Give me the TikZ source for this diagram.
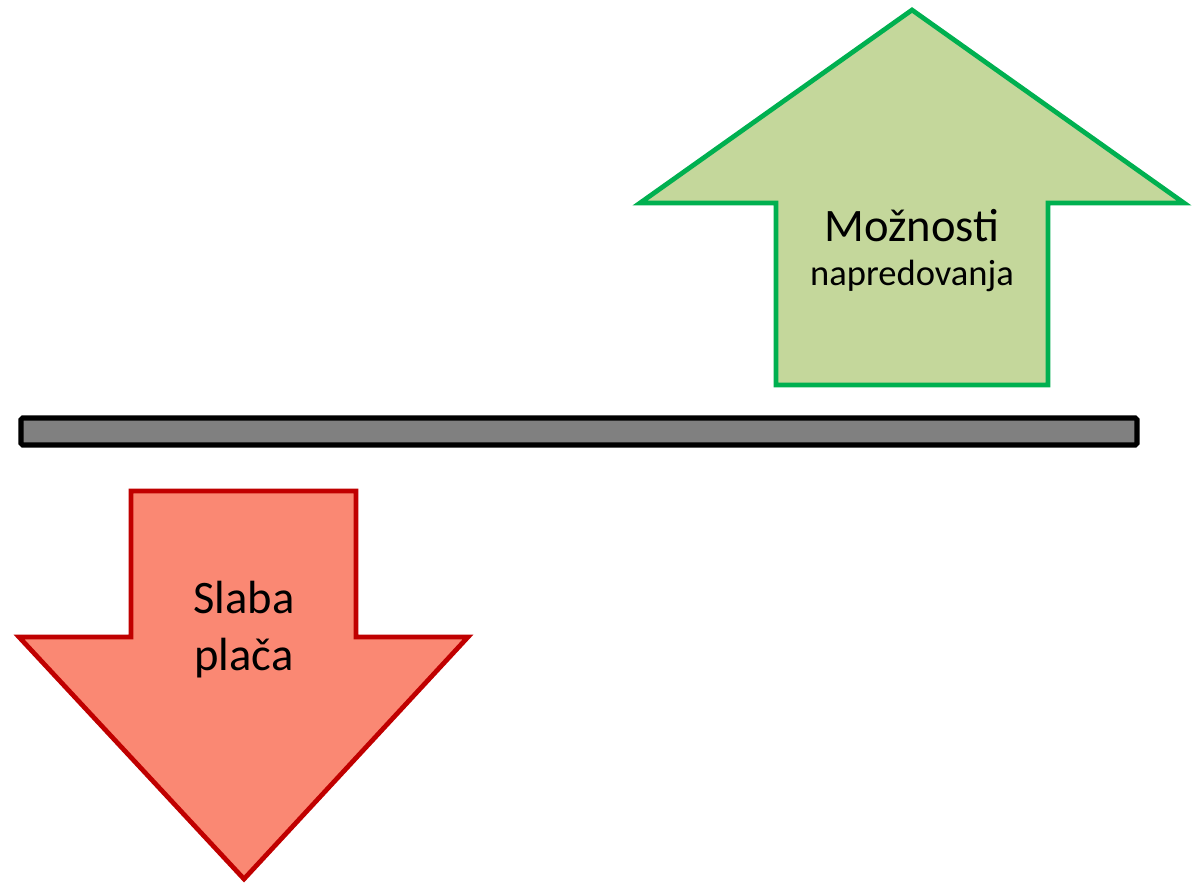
\documentclass[tikz,border=0pt]{standalone}
\usepackage{fontspec}
\setmainfont{Carlito}
\definecolor{upfill}{HTML}{C4D79B}
\definecolor{updraw}{HTML}{00B050}
\definecolor{downfill}{HTML}{FA8873}
\definecolor{downdraw}{HTML}{C00000}
\tikzset{
  uparrow/.style={draw=updraw, fill=upfill, line width=2.7pt},
  downarrow/.style={draw=downdraw, fill=downfill, line width=2.7pt},
  barbox/.style={draw=black, fill=gray, line width=2.9pt, rounded corners=1pt},
  bigtext/.style={font=\fontsize{26.5}{30}\selectfont, inner sep=0pt, anchor=base},
  smalltext/.style={font=\fontsize{20.8}{24}\selectfont, inner sep=0pt, anchor=base}
}
\begin{document}
\begin{tikzpicture}[x=0.02cm, y=-0.02cm]
                  \useasboundingbox (0,0) rectangle (1195,885);

                  % Bar in the middle
                  \draw[barbox] (21,418) rectangle (1137,445);

                  % Arrow pointing up
                  \draw[uparrow] (912,10) -- (1184,203) -- (1048,203) -- (1048,385)
                    -- (776,385) -- (776,203) -- (640,203) -- cycle;
                  \node[bigtext] (moznosti) at (912,241) {Možnosti};
                  \node[smalltext] (napredovanja) at (912,285) {napredovanja};

                  % Arrow pointing down
                  \draw[downarrow] (131,491) -- (356,491) -- (356,637) -- (468,637)
                    -- (244,879) -- (19,637) -- (131,637) -- cycle;
                  \node[bigtext] (slaba) at (244,613) {Slaba};
                  \node[bigtext] (placa) at (244,670) {plača};
\end{tikzpicture}
\end{document}
